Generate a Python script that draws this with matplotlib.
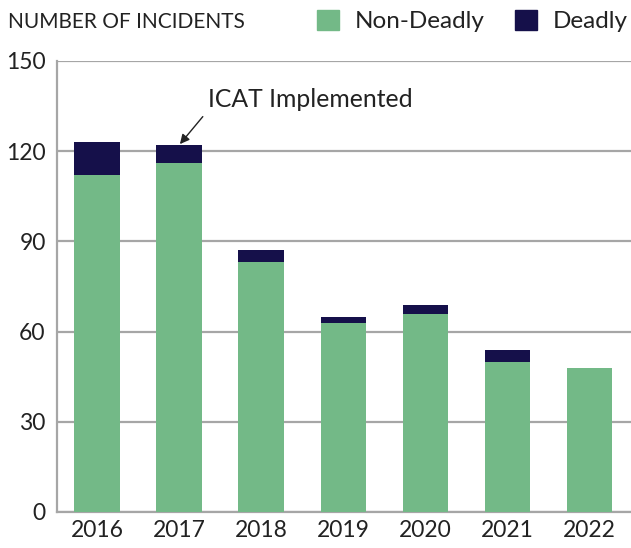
import matplotlib.pyplot as plt
from matplotlib.patches import Patch

plt.rcParams['font.family'] = ['Lato', 'DejaVu Sans']

years = ['2016', '2017', '2018', '2019', '2020', '2021', '2022']
non_deadly = [112, 116, 83, 63, 66, 50, 48]
deadly = [11, 6, 4, 2, 3, 4, 0]

green = '#73b987'
navy = '#15104a'
grid_c = '#a6a6a6'

fig = plt.figure(figsize=(6.31, 5.48), dpi=100)
ax = fig.add_axes([0.090, 0.0657, 0.91, 0.823])

x = range(len(years))
ax.bar(x, non_deadly, width=0.55, color=green, zorder=3)
ax.bar(x, deadly, width=0.55, bottom=non_deadly, color=navy, zorder=3)

ax.set_ylim(0, 150)
ax.set_xlim(-0.49, 6.51)
ax.set_yticks([0, 30, 60, 90, 120, 150])
ax.set_xticks(list(x))
ax.set_xticklabels(years)
ax.tick_params(length=0, labelsize=16.5, colors='#222222', pad=8)
ax.tick_params(axis='x', pad=6)
ax.yaxis.grid(True, color=grid_c, linewidth=1.6, zorder=0)
for s in ['top', 'right']:
    ax.spines[s].set_visible(False)
for s in ['left', 'bottom']:
    ax.spines[s].set_color(grid_c)
    ax.spines[s].set_linewidth(1.6)

# arrow and label for the ICAT note
ax.annotate('', xy=(1, non_deadly[1] + deadly[1]), xytext=(1.29, 131.5),
            arrowprops=dict(arrowstyle='-|>', color='#222222', lw=1,
                            shrinkA=0, shrinkB=1, mutation_scale=14))
ax.text(1.35, 137.2, 'ICAT Implemented', fontsize=17.8, color='#222222',
        va='center', ha='left')

fig.text(0.012, 0.96, 'NUMBER OF INCIDENTS', fontsize=15, color='#222222',
         va='center', ha='left')

handles = [Patch(color=green, label='Non-Deadly'), Patch(color=navy, label='Deadly')]
fig.legend(handles=handles, loc='center right', bbox_to_anchor=(1.029, 0.962),
           ncol=2, frameon=False, fontsize=17.5, handlelength=0.9,
           handleheight=0.9, handletextpad=0.65, columnspacing=1.25,
           labelcolor='#222222')

fig.savefig('out.png', dpi=100)
